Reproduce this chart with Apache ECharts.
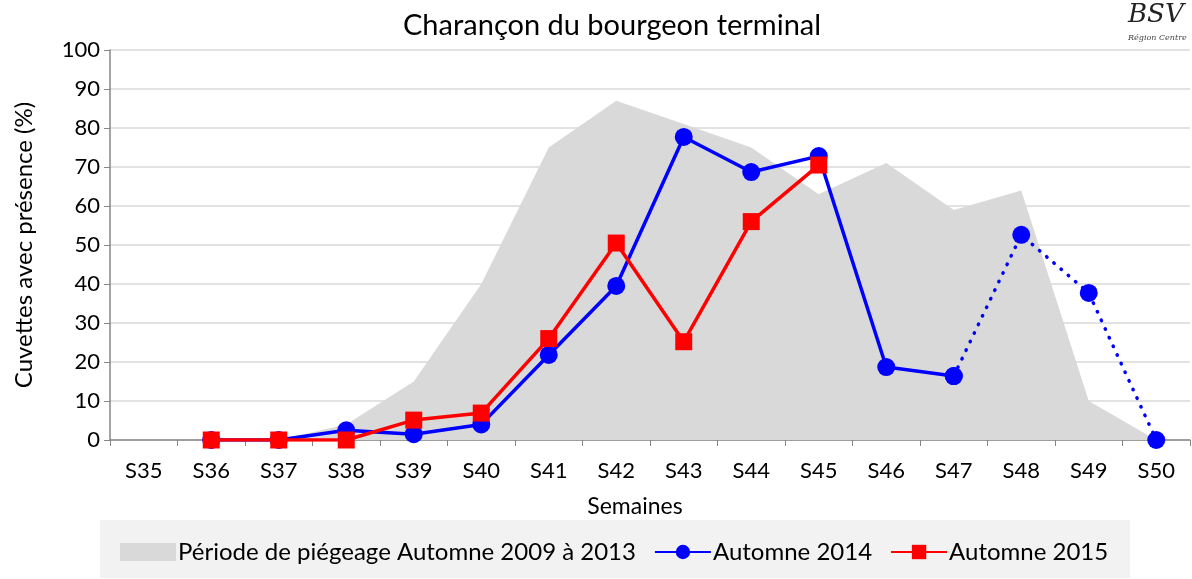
<!DOCTYPE html>
<html><head><meta charset="utf-8">
<script src="https://cdn.jsdelivr.net/npm/echarts@6/dist/echarts.min.js"></script>
<style>html,body{margin:0;padding:0;background:#fff}#c{width:1192px;height:579px}</style>
</head><body><div id="c"></div>
<script>
const categories = ['S35','S36','S37','S38','S39','S40','S41','S42','S43','S44','S45','S46','S47','S48','S49','S50'];
const period0913 = [0, 0, 0, 4, 15, 40, 75, 87, 81, 75, 63, 71, 59, 64, 10, 0];
const autumn2014Solid = [null, 0, 0, 2.5, 1.5, 4, 21.8, 39.5, 77.7, 68.7, 72.8, 18.7, 16.4, null, null, null];
const autumn2014Dotted = [null, null, null, null, null, null, null, null, null, null, null, null, 16.4, 52.6, 37.7, 0];
const autumn2015 = [null, 0, 0, 0, 5.1, 6.9, 26, 50.5, 25.2, 56, 70.5, null, null, null, null, null];
const yTicks = {min: 0, max: 100, interval: 10};

const FONT = 'Lato, "Open Sans", sans-serif';
const chart = echarts.init(document.getElementById('c'), null, {renderer: 'canvas'});
chart.setOption({
  animation: false,
  textStyle: {fontFamily: FONT},
  title: {
    text: 'Charançon du bourgeon terminal',
    left: 398, top: 6,
    textStyle: {fontFamily: FONT, fontSize: 29, fontWeight: 'normal', color: '#000'}
  },
  graphic: [
    {type: 'rect', shape: {x: 100, y: 520, width: 1030, height: 58}, style: {fill: '#f2f2f2'}, z: -10},
    {type: 'text', left: 1128, top: 2, style: {text: 'BSV', font: 'italic 26px "DejaVu Serif", serif', fill: '#222'}},
    {type: 'text', left: 1128, top: 34, style: {text: 'Région Centre', font: 'italic 8px "DejaVu Serif", serif', fill: '#444'}}
  ],
  legend: {
    bottom: 10, left: 115,
    data: [
      {name: 'Période de piégeage Automne 2009 à 2013', icon: 'rect'},
      {name: 'Automne 2014'},
      {name: 'Automne 2015'}
    ],
    itemWidth: 56, itemHeight: 18, itemGap: 18,
    textStyle: {fontFamily: FONT, fontSize: 24, color: '#000', padding: [0, 0, 0, -3]}
  },
  grid: {left: 110, right: 2, top: 50, bottom: 139, containLabel: false},
  xAxis: {
    type: 'category', data: categories, boundaryGap: true,
    name: 'Semaines', nameLocation: 'middle', nameGap: 55,
    nameTextStyle: {fontFamily: FONT, fontSize: 23, color: '#000', padding: [0, 30, 0, 0]},
    axisLine: {lineStyle: {color: '#868686', width: 1.5}},
    axisTick: {show: true, length: 6, lineStyle: {color: '#868686'}},
    axisLabel: {fontFamily: FONT, fontSize: 22, color: '#000', margin: 20, interval: 0}
  },
  yAxis: {
    type: 'value', min: yTicks.min, max: yTicks.max, interval: yTicks.interval,
    name: 'Cuvettes avec présence (%)', nameLocation: 'middle', nameGap: 74,
    nameTextStyle: {fontFamily: FONT, fontSize: 24, color: '#000'},
    axisLine: {show: true, lineStyle: {color: '#868686', width: 1.5}},
    axisTick: {show: true, length: 6, lineStyle: {color: '#868686'}},
    axisLabel: {fontFamily: FONT, fontSize: 22, color: '#000', margin: 10},
    splitLine: {lineStyle: {color: '#d9d9d9', width: 1.5}}
  },
  series: [
    {
      name: 'Période de piégeage Automne 2009 à 2013', type: 'line', data: period0913,
      symbol: 'none', lineStyle: {width: 0, color: '#d9d9d9'}, itemStyle: {color: '#d9d9d9'},
      areaStyle: {color: '#d9d9d9', opacity: 1}, z: 1
    },
    {
      name: 'Automne 2014', type: 'line', data: autumn2014Solid, connectNulls: false,
      symbol: 'circle', symbolSize: 18, color: '#0000ff',
      lineStyle: {width: 3.5, color: '#0000ff'}, itemStyle: {color: '#0000ff'}, z: 3
    },
    {
      name: 'Automne 2014 (suite)', type: 'line', data: autumn2014Dotted,
      symbol: 'circle', symbolSize: 18, color: '#0000ff',
      lineStyle: {width: 3.5, type: [0.5, 9], cap: 'round', color: '#0000ff'}, itemStyle: {color: '#0000ff'}, z: 3
    },
    {
      name: 'Automne 2015', type: 'line', data: autumn2015,
      symbol: 'rect', symbolSize: 17, color: '#ff0000',
      lineStyle: {width: 3.5, color: '#ff0000'}, itemStyle: {color: '#ff0000'}, z: 4
    }
  ]
});
</script></body></html>
